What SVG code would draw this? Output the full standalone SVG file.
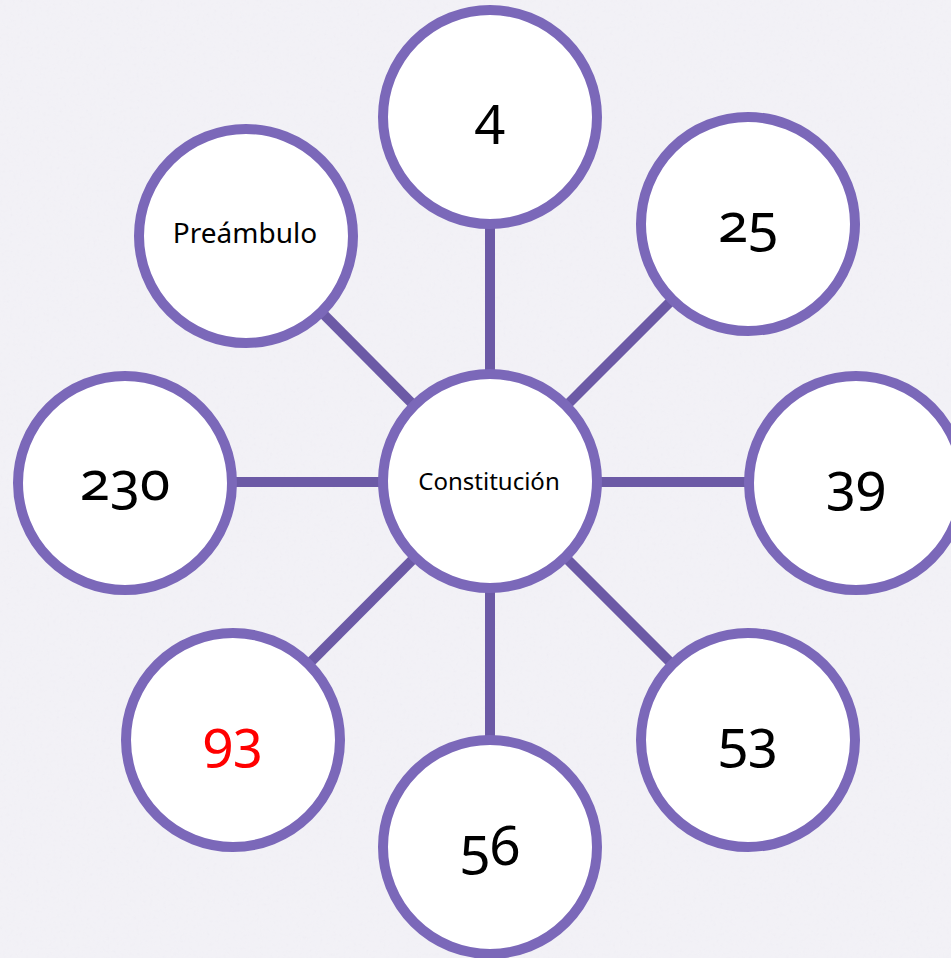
<svg xmlns="http://www.w3.org/2000/svg" width="951" height="958" viewBox="0 0 951 958">
<defs>
<filter id="tex" x="0" y="0" width="100%" height="100%">
<feTurbulence type="fractalNoise" baseFrequency="0.3" numOctaves="3" seed="4" result="n"/>
<feColorMatrix type="matrix" values="0 0 0 0 0.86  0 0 0 0 0.85  0 0 0 0 0.9  0 0 0 -2 1.1" in="n"/>
</filter>
</defs>
<style>
.node{fill:#ffffff;stroke:#7b68b9;stroke-width:10}
.conn line{stroke:#6c5aa6;stroke-width:10}
.num{font-family:"Noto Sans","Open Sans",sans-serif;font-size:55px;fill:#000;text-anchor:middle;font-variant-numeric:oldstyle-nums;font-feature-settings:"onum" 1}
.lbl{font-family:"Noto Sans","Open Sans",sans-serif;fill:#000;text-anchor:middle}
</style>
<rect width="951" height="958" fill="#f2f1f6"/>
<rect width="951" height="958" filter="url(#tex)" opacity="0.7"/>
<g id="connectors" class="conn">
<line x1="490" y1="482" x2="490" y2="117"/>
<line x1="490" y1="482" x2="748" y2="224"/>
<line x1="490" y1="482" x2="856" y2="482"/>
<line x1="490" y1="482" x2="748" y2="740"/>
<line x1="490" y1="482" x2="490" y2="847"/>
<line x1="490" y1="482" x2="233" y2="740"/>
<line x1="490" y1="482" x2="125" y2="482"/>
<line x1="490" y1="482" x2="246" y2="236"/>
</g>
<g id="node-constitucion"><circle class="node" cx="490" cy="481" r="107"/><text class="lbl" x="489" y="490" font-size="24">Constitución</text></g>
<g id="node-4"><circle class="node" cx="490" cy="117" r="107"/><text class="num" x="490" y="135">4</text></g>
<g id="node-25"><circle class="node" cx="748" cy="224" r="107"/><text class="num" x="748" y="242">25</text></g>
<g id="node-39"><circle class="node" cx="856" cy="483" r="107"/><text class="num" x="856" y="501">39</text></g>
<g id="node-53"><circle class="node" cx="748" cy="740" r="107"/><text class="num" x="748" y="758">53</text></g>
<g id="node-56"><circle class="node" cx="490" cy="847" r="107"/><text class="num" x="490" y="865">56</text></g>
<g id="node-93"><circle class="node" cx="233" cy="740" r="107"/><text class="num" x="233" y="758" style="fill:#ff0000">93</text></g>
<g id="node-230"><circle class="node" cx="125" cy="483" r="107"/><text class="num" x="125" y="500">230</text></g>
<g id="node-preambulo"><circle class="node" cx="246" cy="236" r="107"/><text class="lbl" x="245" y="243" font-size="28">Preámbulo</text></g>
</svg>
